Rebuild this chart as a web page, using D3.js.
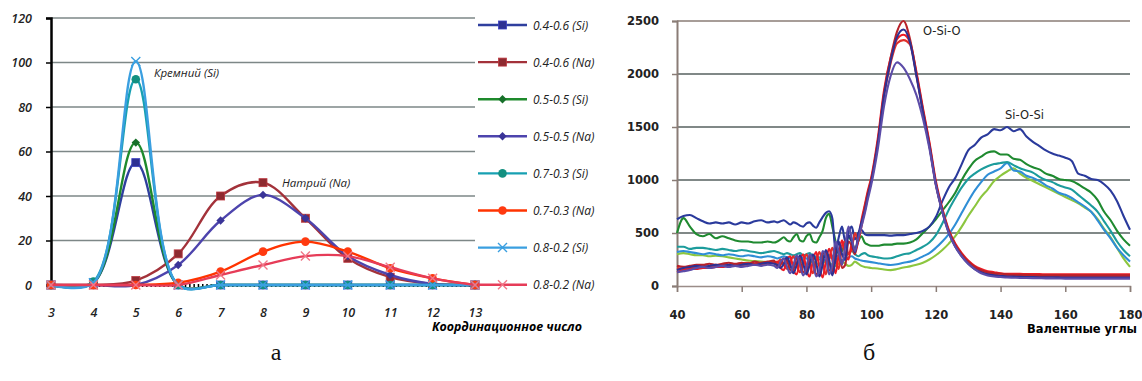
<!DOCTYPE html>
<html><head><meta charset="utf-8">
<script src="https://cdn.jsdelivr.net/npm/d3@7"></script>
<style>body{margin:0;background:#fff}</style>
</head><body><svg id="c" width="1142" height="381"></svg>
<script>
// ---------- Left chart data ----------
const coordNumbers = [3,4,5,6,7,8,9,10,11,12,13];
const yTicksLeft = [0,20,40,60,80,100,120];
const seriesNames = ["0.4-0.6 (Si)","0.4-0.6 (Na)","0.5-0.5 (Si)","0.5-0.5 (Na)","0.7-0.3 (Si)","0.7-0.3 (Na)","0.8-0.2 (Si)","0.8-0.2 (Na)"];
const s04Si = [0,1,55,0,0,0,0,0,0,0,0];
const s04Na = [0,0,2,14,40,46,30,12,3.5,0.5,0];
const s05Si = [0,1,64,0,0,0,0,0,0,0,0];
const s05Na = [0,0,0,9,29,40.5,30,13,4.5,0.5,0];
const s07Si = [0,1.5,92.5,0,0,0,0,0,0,0,0];
const s07Na = [0,0,0,1,6,15,19.5,15,7.5,3,0];
const s08Si = [0,1,100.5,0,0,0,0,0,0,0,0];
const s08Na = [0,0,0,0,4.5,9,13,13,8,3,0];

// ---------- Right chart data ----------
const angles = [40,42,44,46,48,50,52,54,56,58,60,62,64,66,68,70,
71,72,73,74,75,76,77,78,79,80,81,82,83,84,85,86,87,88,89,90,91,92,93,94,95,96,97,98,99,100,
102,104,106,108,110,112,114,116,118,120,122,124,126,128,130,132,134,136,138,140,
142,144,146,148,150,152,154,156,158,160,162,164,166,168,170,172,174,176,178,180];
const xTicksRight = [40,60,80,100,120,140,160,180];
const yTicksRight = [0,500,1000,1500,2000,2500];
const siNavy = [630,660,670,640,610,590,600,590,600,580,600,590,610,620,600,610,
600,610,620,600,580,600,590,570,560,590,600,570,550,600,650,690,705,640,330,460,560,420,510,560,440,500,530,490,480,480,
480,480,475,480,480,490,500,520,560,650,800,930,1020,1150,1280,1330,1400,1430,1480,1470,
1500,1460,1480,1410,1360,1320,1280,1250,1230,1210,1180,1060,1040,1010,1000,960,900,800,660,530];
const siGreen = [500,640,560,490,470,490,450,470,450,430,420,420,410,410,420,410,
420,440,460,430,420,460,490,430,420,470,490,420,410,460,520,640,680,560,420,300,330,410,460,420,350,420,470,410,390,380,
380,390,390,400,400,410,440,500,560,630,710,790,880,1000,1100,1180,1220,1260,1270,1240,
1240,1200,1190,1150,1120,1100,1060,1040,1010,1000,990,960,920,880,810,700,620,520,440,380];
const siTeal = [370,370,350,360,360,350,340,350,340,330,340,330,320,310,320,330,
320,310,300,310,300,290,300,310,290,300,310,280,270,250,270,300,290,270,250,260,240,270,310,330,300,280,300,310,290,280,
270,260,262,280,300,310,340,370,410,480,590,720,830,930,1010,1060,1100,1130,1150,1160,
1170,1140,1110,1090,1070,1030,1000,980,950,930,910,860,810,760,700,610,520,420,340,280];
const siLightBlue = [320,330,320,310,300,310,300,290,300,290,280,290,280,270,280,270,
260,270,280,270,260,270,260,250,270,260,250,260,280,270,250,240,260,280,300,260,240,250,270,280,260,250,240,235,230,225,
215,205,198,205,220,230,250,280,310,360,420,490,580,690,800,900,980,1050,1080,1110,
1160,1090,1080,1040,1020,990,950,920,880,860,830,790,750,700,620,530,450,360,290,230];
const siLightGreen = [300,310,300,290,290,280,285,280,270,260,250,240,235,230,225,220,
215,220,210,220,230,215,210,225,220,210,220,230,215,210,220,230,220,200,190,210,230,210,190,200,230,210,190,180,175,170,
165,155,150,160,175,185,200,220,250,290,340,400,470,560,660,750,840,910,990,1040,
1080,1110,1060,1020,990,960,930,900,870,840,810,780,740,700,630,540,460,360,260,180];
const oDarkRed = [190,180,190,200,200,210,200,210,220,210,220,210,230,220,230,240,
180,200,260,240,150,160,270,240,130,140,280,250,110,130,300,320,150,140,330,350,170,200,420,380,300,450,580,740,880,1000,
1350,1820,2150,2400,2500,2330,2000,1660,1340,970,720,520,390,300,230,180,150,130,120,115,
110,105,105,105,100,100,100,100,100,100,100,100,100,100,100,100,100,100,100,100];
const oNavy = [150,170,180,190,180,190,200,190,200,190,200,210,200,210,220,210,
200,170,210,270,200,120,200,290,210,110,200,300,220,90,200,340,250,100,250,420,300,250,480,420,320,480,600,700,850,980,
1330,1800,2120,2350,2420,2300,1980,1640,1320,960,700,500,370,280,210,160,130,110,100,95,
90,88,86,85,84,83,82,82,81,80,80,80,80,80,80,80,80,80,80,80];
const oRed = [130,150,160,160,170,170,180,180,190,190,200,200,210,200,220,220,
230,170,150,250,280,150,110,240,300,150,90,240,320,180,80,230,350,250,120,300,430,300,250,400,330,420,620,760,900,1020,
1380,1850,2150,2330,2370,2300,2020,1680,1360,990,730,530,400,310,240,190,160,140,130,120,
115,115,115,112,112,112,110,110,110,110,110,110,110,110,110,110,110,110,110,110];
const oRed2 = [170,160,170,180,190,180,190,200,190,200,210,220,210,220,210,230,
220,250,200,160,230,280,200,130,220,300,210,120,230,320,220,110,250,360,250,160,380,420,300,350,500,430,560,720,860,990,
1340,1800,2100,2290,2320,2280,1990,1650,1330,960,710,510,380,290,220,170,140,120,110,100,
95,95,92,92,92,90,90,90,90,90,90,90,90,90,90,90,90,90,90,90];
const oPurple = [130,140,150,170,180,170,180,190,180,190,180,190,200,190,200,190,
170,230,260,180,120,200,290,200,100,180,300,230,90,150,330,280,110,200,420,320,200,380,560,450,330,450,560,680,820,950,
1280,1700,1980,2110,2060,1950,1800,1580,1300,950,700,500,370,280,210,160,120,100,90,85,
80,78,76,75,74,73,72,72,71,70,70,70,70,70,70,70,70,70,70,70];

// ---------- styles ----------
const leftSeries = [
  {name:seriesNames[0], v:s04Si, line:"#2f3f9e", mk:"#2e3192", m:"square"},
  {name:seriesNames[1], v:s04Na, line:"#a3323a", mk:"#8e2a30", m:"square"},
  {name:seriesNames[2], v:s05Si, line:"#1e8a2c", mk:"#17702a", m:"diamond"},
  {name:seriesNames[3], v:s05Na, line:"#4d44ad", mk:"#3a3498", m:"diamond"},
  {name:seriesNames[4], v:s07Si, line:"#17a0b2", mk:"#139080", m:"circle"},
  {name:seriesNames[5], v:s07Na, line:"#ff3300", mk:"#ff3a10", m:"circle"},
  {name:seriesNames[6], v:s08Si, line:"#3a9fe0", mk:"#3a9fe0", m:"x"},
  {name:seriesNames[7], v:s08Na, line:"#e63c58", mk:"#f07888", m:"x"}
];
const rightSeries = [
  {v:siLightGreen, c:"#8cc63f"},
  {v:siLightBlue, c:"#2f8ed6"},
  {v:siTeal, c:"#1c9c9c"},
  {v:siGreen, c:"#1f8a30"},
  {v:siNavy, c:"#2a3a9c"},
  {v:oRed2, c:"#e0302a"},
  {v:oRed, c:"#ee1c25"},
  {v:oDarkRed, c:"#b8222a"},
  {v:oNavy, c:"#2e3192"},
  {v:oPurple, c:"#5c4ca8"}
];

const svg = d3.select("#c");
svg.append("rect").attr("width",1142).attr("height",381).attr("fill","#fff");

// ================= LEFT CHART =================
const xL = d3.scaleLinear().domain([3,13]).range([51,475]);
const yL = d3.scaleLinear().domain([0,120]).range([285,18]);
const gL = svg.append("g");
const fontL = "'Open Sans', sans-serif";

gL.selectAll("line.grid").data(yTicksLeft.filter(d=>d>0)).join("line")
  .attr("x1",xL(3)).attr("x2",xL(13)).attr("y1",d=>yL(d)).attr("y2",d=>yL(d))
  .attr("stroke","#7d8787").attr("stroke-width",1.4);

const yAxL = gL.append("g").attr("transform",`translate(${xL(3)},0)`)
  .call(d3.axisLeft(yL).tickValues(yTicksLeft).tickSize(5).tickPadding(14).tickFormat(d3.format("d")));
yAxL.select(".domain").attr("stroke","#000").attr("stroke-width",2.5);
yAxL.selectAll(".tick line").attr("stroke","#000").attr("stroke-width",1.5);
yAxL.selectAll("text").attr("font-family",fontL).attr("font-style","italic")
  .attr("font-weight",600).attr("font-size",12.5).attr("fill","#222");

const xAxL = gL.append("g").attr("transform",`translate(0,${yL(0)})`)
  .call(d3.axisBottom(xL).tickValues(coordNumbers).tickSize(0).tickPadding(23).tickFormat(d3.format("d")));
xAxL.select(".domain").attr("stroke","#000").attr("stroke-width",3).attr("stroke-dasharray","1.5,2.8");
xAxL.selectAll("text").attr("font-family",fontL).attr("font-style","italic")
  .attr("font-weight",600).attr("font-size",12.5).attr("fill","#222");

function marker(g, type, x, y, color){
  if(type==="square"){
    const s = 8;
    g.append("rect").attr("x",x-s/2).attr("y",y-s/2).attr("width",s).attr("height",s)
      .attr("fill",color).attr("stroke",d3.color(color).brighter(0.8)).attr("stroke-width",0.8);
  } else if(type==="diamond"){
    const s = 4.2;
    g.append("path").attr("d",`M${x},${y-s}L${x+s},${y}L${x},${y+s}L${x-s},${y}Z`).attr("fill",color);
  } else if(type==="circle"){
    g.append("circle").attr("cx",x).attr("cy",y).attr("r",4.3).attr("fill",color);
  } else {
    const s = 4.5;
    g.append("path").attr("d",`M${x-s},${y-s}L${x+s},${y+s}M${x-s},${y+s}L${x+s},${y-s}`)
      .attr("stroke",color).attr("stroke-width",1.4);
  }
}

const lineL = d3.line().x((d,i)=>xL(coordNumbers[i])).y(d=>yL(d)).curve(d3.curveCatmullRom.alpha(0.5));
leftSeries.forEach(s=>{
  const g = gL.append("g");
  g.append("path").attr("d",lineL(s.v)).attr("fill","none").attr("stroke",s.line)
    .attr("stroke-width",2.4).attr("stroke-linejoin","round");
  s.v.forEach((v,i)=>marker(g,s.m,xL(coordNumbers[i]),yL(v),s.mk));
});

// annotations
gL.append("text").attr("x",154).attr("y",77).text("Кремний (Si)")
  .attr("font-family",fontL).attr("font-style","italic").attr("font-size",11.5).attr("fill","#222");
gL.append("text").attr("x",282).attr("y",187).text("Натрий (Na)")
  .attr("font-family",fontL).attr("font-style","italic").attr("font-size",11.5).attr("fill","#222");
gL.append("text").attr("x",432).attr("y",331).text("Координационное число")
  .attr("font-family",fontL).attr("font-style","italic").attr("font-weight",700)
  .attr("font-size",11.5).attr("fill","#000").attr("textLength",150).attr("lengthAdjust","spacingAndGlyphs");

// legend
leftSeries.forEach((s,i)=>{
  const y = 25 + i*37.1;
  const g = gL.append("g");
  g.append("line").attr("x1",478).attr("x2",527).attr("y1",y).attr("y2",y)
    .attr("stroke",s.line).attr("stroke-width",2.4);
  marker(g,s.m,502.5,y,s.mk);
  g.append("text").attr("x",533).attr("y",y+4.5).text(s.name)
    .attr("font-family",fontL).attr("font-style","italic").attr("font-size",12).attr("fill","#222");
});

// ================= RIGHT CHART =================
const xR = d3.scaleLinear().domain([40,180]).range([677,1130]);
const yR = d3.scaleLinear().domain([0,2500]).range([286,21]);
const gR = svg.append("g");
const fontR = "'DejaVu Sans', sans-serif";

gR.selectAll("line.grid").data(yTicksRight.filter(d=>d>0)).join("line")
  .attr("x1",xR(40)).attr("x2",xR(180)).attr("y1",d=>yR(d)).attr("y2",d=>yR(d))
  .attr("stroke",d=>d===2500?"#8a7c76":"#56605f").attr("stroke-width",1.5);

const yAxR = gR.append("g").attr("transform",`translate(${xR(40)},0)`)
  .call(d3.axisLeft(yR).tickValues(yTicksRight).tickSize(5).tickPadding(13).tickFormat(d3.format("d")));
yAxR.select(".domain").attr("stroke","#8a7c76").attr("stroke-width",2);
yAxR.selectAll(".tick line").attr("stroke","#8a7c76").attr("stroke-width",1.5);
yAxR.selectAll("text").attr("font-family",fontR).attr("font-weight","bold")
  .attr("font-size",11.5).attr("fill","#222");

const xAxR = gR.append("g").attr("transform",`translate(0,${yR(0)})`)
  .call(d3.axisBottom(xR).tickValues(xTicksRight).tickSize(6).tickPadding(19).tickFormat(d3.format("d")));
xAxR.select(".domain").attr("stroke","#9a8c88").attr("stroke-width",1.5);
xAxR.selectAll(".tick line").attr("stroke","#8a7c76").attr("stroke-width",1.5);
xAxR.selectAll("text").attr("font-family",fontR).attr("font-weight","bold")
  .attr("font-size",11.5).attr("fill","#222");

const lineR = d3.line().x((d,i)=>xR(angles[i])).y(d=>yR(d)).curve(d3.curveMonotoneX);
rightSeries.forEach(s=>{
  gR.append("path").attr("d",lineR(s.v)).attr("fill","none").attr("stroke",s.c)
    .attr("stroke-width",2.1).attr("stroke-linejoin","round");
});

gR.append("text").attr("x",923).attr("y",35).text("O-Si-O")
  .attr("font-family",fontR).attr("font-size",11.5).attr("fill","#222");
gR.append("text").attr("x",1005).attr("y",119).text("Si-O-Si")
  .attr("font-family",fontR).attr("font-size",11.5).attr("fill","#222");
gR.append("text").attr("x",1027).attr("y",333).text("Валентные углы")
  .attr("font-family",fontR).attr("font-weight","bold").attr("font-size",11.5).attr("fill","#000")
  .attr("textLength",110).attr("lengthAdjust","spacingAndGlyphs");

// captions
svg.append("text").attr("x",276).attr("y",360).attr("text-anchor","middle").text("а")
  .attr("font-family","'Liberation Serif', serif").attr("font-size",24).attr("fill","#111");
svg.append("text").attr("x",869).attr("y",360).attr("text-anchor","middle").text("б")
  .attr("font-family","'Liberation Serif', serif").attr("font-size",24).attr("fill","#111");
</script>
</body></html>
